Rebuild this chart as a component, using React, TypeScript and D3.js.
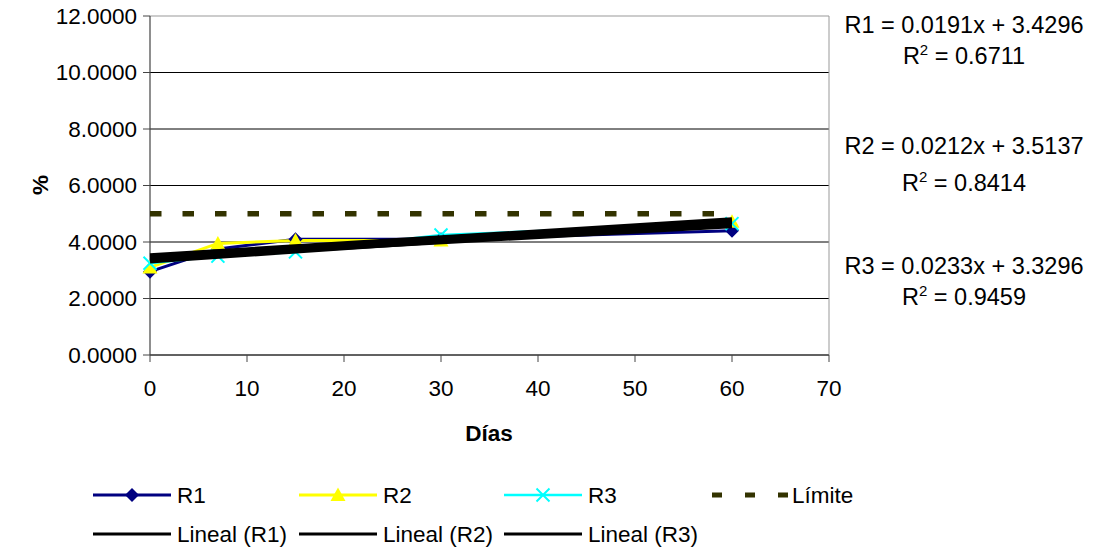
import React from "react";
import * as d3 from "d3";

const days = [0, 7, 15, 30, 60];
const r1 = [2.95, 3.75, 4.1, 4.1, 4.4];
const r2 = [3.1, 3.95, 4.05, 4.05, 4.72];
const r3 = [3.25, 3.5, 3.65, 4.25, 4.65];
const limite = [5, 5, 5, 5, 5];
const trendSlopes = [0.0191, 0.0212, 0.0233];
const trendIntercepts = [3.4296, 3.5137, 3.3296];
const trendR2 = ["0.6711", "0.8414", "0.9459"];
const trendNames = ["R1", "R2", "R3"];
const trendRange = [0, 60];
const xTicks = [0, 10, 20, 30, 40, 50, 60, 70];
const yTicks = [0, 2, 4, 6, 8, 10, 12];

const W = 1099;
const H = 549;
const FONT = "'Liberation Sans', Arial, sans-serif";
const FS = 22.5;
const FS_EQ = 23.5;

const x = d3.scaleLinear().domain([0, 70]).range([150, 829]);
const y = d3.scaleLinear().domain([0, 12]).range([355, 16]);

const lineGen = d3
  .line<[number, number]>()
  .x((d) => x(d[0]))
  .y((d) => y(d[1]));

function Diamond({ cx, cy, s = 7 }: { cx: number; cy: number; s?: number }) {
  return (
    <path
      d={`M${cx},${cy - s}L${cx + s},${cy}L${cx},${cy + s}L${cx - s},${cy}Z`}
      fill="#000080"
    />
  );
}
function Triangle({ cx, cy, s = 7.5 }: { cx: number; cy: number; s?: number }) {
  return (
    <path
      d={`M${cx},${cy - s}L${cx + s},${cy + s * 0.8}L${cx - s},${cy + s * 0.8}Z`}
      fill="#FFFF00"
    />
  );
}
function XMark({ cx, cy, s = 6.5 }: { cx: number; cy: number; s?: number }) {
  return (
    <path
      d={`M${cx - s},${cy - s}L${cx + s},${cy + s}M${cx - s},${cy + s}L${cx + s},${cy - s}`}
      stroke="#00FFFF"
      strokeWidth={2}
      fill="none"
    />
  );
}

const series = [
  { name: "R1", values: r1, color: "#000080", width: 3, Marker: Diamond },
  { name: "R2", values: r2, color: "#FFFF00", width: 3, Marker: Triangle },
  { name: "R3", values: r3, color: "#00FFFF", width: 2.5, Marker: XMark },
];

export default function App() {
  const eqY = [
    [25, 56],
    [146, 183],
    [266, 297],
  ];
  const legendX = [93, 299, 504, 712];
  const legendRow = [495, 534];
  return (
    <div style={{ position: "absolute", left: 0, top: 0 }}>
      <svg width={W} height={H} style={{ display: "block", background: "#fff" }} fontFamily={FONT}>
        {yTicks.map((t) => (
          <line key={"g" + t} x1={x(0)} x2={x(70)} y1={y(t)} y2={y(t)} stroke={t === 12 ? "#999" : "#000"} strokeWidth={1} />
        ))}
        <line x1={x(70)} x2={x(70)} y1={y(12)} y2={y(0)} stroke="#999" strokeWidth={1} />
        <line x1={x(0)} x2={x(0)} y1={y(12)} y2={y(0)} stroke="#444" strokeWidth={1.2} />
        <line x1={x(0)} x2={x(70)} y1={y(0)} y2={y(0)} stroke="#444" strokeWidth={1.2} />
        {yTicks.map((t) => (
          <g key={"yt" + t}>
            <line x1={x(0) - 7} x2={x(0)} y1={y(t)} y2={y(t)} stroke="#444" />
            <text x={137} y={y(t)} dy="0.35em" textAnchor="end" fontSize={FS}>
              {t.toFixed(4)}
            </text>
          </g>
        ))}
        {xTicks.map((t) => (
          <g key={"xt" + t}>
            <line x1={x(t)} x2={x(t)} y1={y(0)} y2={y(0) + 7} stroke="#444" />
            <text x={x(t)} y={388} dy="0.35em" textAnchor="middle" fontSize={FS}>
              {t}
            </text>
          </g>
        ))}
        <text x={489} y={433} dy="0.35em" textAnchor="middle" fontSize={FS} fontWeight="bold">
          Días
        </text>
        <text transform={`translate(40,185) rotate(-90)`} dy="0.35em" textAnchor="middle" fontSize={FS} fontWeight="bold">
          %
        </text>

        <path
          d={lineGen(days.map((d, i) => [d, limite[i]]) as [number, number][]) || ""}
          stroke="#333300"
          strokeWidth={5.5}
          strokeDasharray="11.5 21"
          fill="none"
        />
        {series.map((s) => (
          <path
            key={s.name}
            d={lineGen(days.map((d, i) => [d, s.values[i]]) as [number, number][]) || ""}
            stroke={s.color}
            strokeWidth={s.width}
            fill="none"
          />
        ))}
        {series.map((s) =>
          days.map((d, i) => <s.Marker key={s.name + i} cx={x(d)} cy={y(s.values[i])} />)
        )}
        {trendSlopes.map((m, k) => (
          <path
            key={"tr" + k}
            d={lineGen(trendRange.map((d) => [d, m * d + trendIntercepts[k]]) as [number, number][]) || ""}
            stroke="#000"
            strokeWidth={5}
            fill="none"
          />
        ))}

        {trendSlopes.map((m, k) => (
          <g key={"eq" + k} fontSize={FS_EQ}>
            <text x={964} y={eqY[k][0]} dy="0.35em" textAnchor="middle">
              {`${trendNames[k]} = ${m.toFixed(4)}x + ${trendIntercepts[k].toFixed(4)}`}
            </text>
            <text x={964} y={eqY[k][1]} dy="0.35em" textAnchor="middle">
              R<tspan dy="-9" fontSize={15}>2</tspan>
              <tspan dy="9">{` = ${trendR2[k]}`}</tspan>
            </text>
          </g>
        ))}

        {series.map((s, k) => (
          <g key={"lg" + k}>
            <line x1={legendX[k]} x2={legendX[k] + 78} y1={legendRow[0]} y2={legendRow[0]} stroke={s.color} strokeWidth={s.width} />
            <s.Marker cx={legendX[k] + 39} cy={legendRow[0]} />
            <text x={legendX[k] + 84} y={legendRow[0]} dy="0.35em" fontSize={FS}>
              {s.name}
            </text>
            <line x1={legendX[k]} x2={legendX[k] + 78} y1={legendRow[1]} y2={legendRow[1]} stroke="#000" strokeWidth={3} />
            <text x={legendX[k] + 84} y={legendRow[1]} dy="0.35em" fontSize={FS}>
              {`Lineal (${s.name})`}
            </text>
          </g>
        ))}
        <line x1={legendX[3]} x2={legendX[3] + 78} y1={legendRow[0]} y2={legendRow[0]} stroke="#333300" strokeWidth={5} strokeDasharray="10 23" />
        <text x={legendX[3] + 80} y={legendRow[0]} dy="0.35em" fontSize={FS}>
          Límite
        </text>
      </svg>
    </div>
  );
}
